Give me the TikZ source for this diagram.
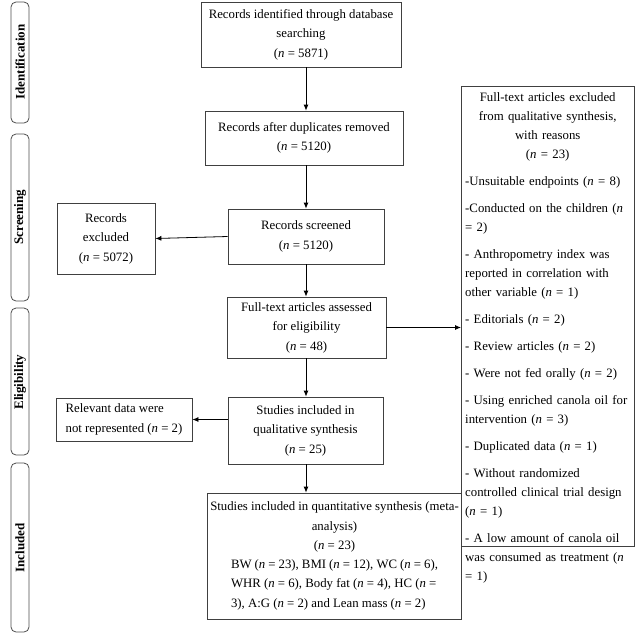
\documentclass[tikz,border=0pt]{standalone}
\usepackage{fontspec}
\usetikzlibrary{arrows.meta}
\setmainfont{Liberation Serif}
\begin{document}
\begin{tikzpicture}[x=1pt,y=-1pt,
 box/.style={draw=black!75,line width=0.8pt,align=center,inner sep=3pt,font=\fontsize{12.8}{19.5}\selectfont},
 side/.style={draw=black!70,line width=0.8pt,rounded corners=5pt,minimum width=18pt},
 lab/.style={rotate=90,font=\bfseries\fontsize{13}{14}\selectfont},
 arr/.style={-{Latex[length=6pt,width=5pt]},line width=0.8pt}]
\useasboundingbox (0,0) rectangle (642,635);
\draw[side] (11,2) rectangle (29,123); \node[lab] (l1) at (20,62) {Identification};
\draw[side] (11,134) rectangle (29,301); \node[lab] (l2) at (20,217) {Screening};
\draw[side] (11,308) rectangle (29,455); \node[lab] (l3) at (20,382) {Eligibility};
\draw[side] (11,463) rectangle (29,632); \node[lab] (l4) at (20,548) {Included};
\node[box,minimum width=200pt,minimum height=65pt] (b1) at (301,34.5) {Records identified through database\\searching\\(\textit{n} = 5871)};
\node[box,minimum width=198pt,minimum height=54pt] (b2) at (304,138) {Records after duplicates removed\\(\textit{n} = 5120)};
\node[box,minimum width=156pt,minimum height=55pt] (b3) at (306,236.5) {Records screened\\(\textit{n} = 5120)};
\node[box,minimum width=98pt,minimum height=71pt] (ex) at (106,238.5) {Records\\excluded\\(\textit{n} = 5072)};
\node[box,minimum width=159pt,minimum height=61pt] (b4) at (306.5,327.5) {Full-text articles assessed\\for eligibility\\(\textit{n} = 48)};
\node[box,minimum width=155pt,minimum height=67pt] (b5) at (305.5,430.5) {Studies included in\\qualitative synthesis\\(\textit{n} = 25)};
\node[box,minimum width=136pt,minimum height=43pt,align=left] (rel) at (124,419.5) {Relevant data were\\not represented (\textit{n} = 2)};
\node[box,minimum width=215pt,minimum height=126pt] (b6) at (334.5,556) {Studies included in quantitative synthesis (meta-\\analysis)\\(\textit{n} = 23)\\[6pt]
\begin{minipage}{207pt}\raggedright BW (\textit{n} = 23), BMI (\textit{n} = 12), WC (\textit{n} = 6), WHR (\textit{n} = 6), Body fat (\textit{n} = 4), HC (\textit{n} = 3), A:G (\textit{n} = 2) and Lean mass (\textit{n} = 2)\end{minipage}};
\node[draw=black!75,line width=0.8pt,anchor=north west,minimum width=173pt,minimum height=460pt,inner sep=4pt] (rb) at (461,86) {};
\node[anchor=north west,text width=165pt,inner sep=0pt,font=\fontsize{12.8}{19}\selectfont] (rt) at (465,92) {%
{\centering Full-text articles excluded\\from qualitative synthesis,\\with reasons\\(\textit{n} = 23)\par}
\parskip=8pt\raggedright
-Unsuitable endpoints (\textit{n} = 8)\par
-Conducted on the children (\textit{n} = 2)\par
- Anthropometry index was reported in correlation with other variable (\textit{n} = 1)\par
- Editorials (\textit{n} = 2)\par
- Review articles (\textit{n} = 2)\par
- Were not fed orally (\textit{n} = 2)\par
- Using enriched canola oil for intervention (\textit{n} = 3)\par
- Duplicated data (\textit{n} = 1)\par
- Without randomized controlled clinical trial design (\textit{n} = 1)\par
- A low amount of canola oil was consumed as treatment (\textit{n} = 1)\par};
\coordinate (cx) at (306,0);
\draw[arr] (b1.south-|cx) -- (b2.north-|cx);
\draw[arr] (b2.south-|cx) -- (b3.north-|cx);
\draw[arr] (b3.south-|cx) -- (b4.north-|cx);
\draw[arr] (b4.south-|cx) -- (b5.north-|cx);
\draw[arr] (b5.south-|cx) -- (b6.north-|cx);
\draw[arr] (b3.west) -- (ex.east);
\draw[arr] (b5.west|-rel.east) -- (rel.east);
\draw[arr] (b4.east) -- (b4.east-|rb.west);
\end{tikzpicture}
\end{document}
